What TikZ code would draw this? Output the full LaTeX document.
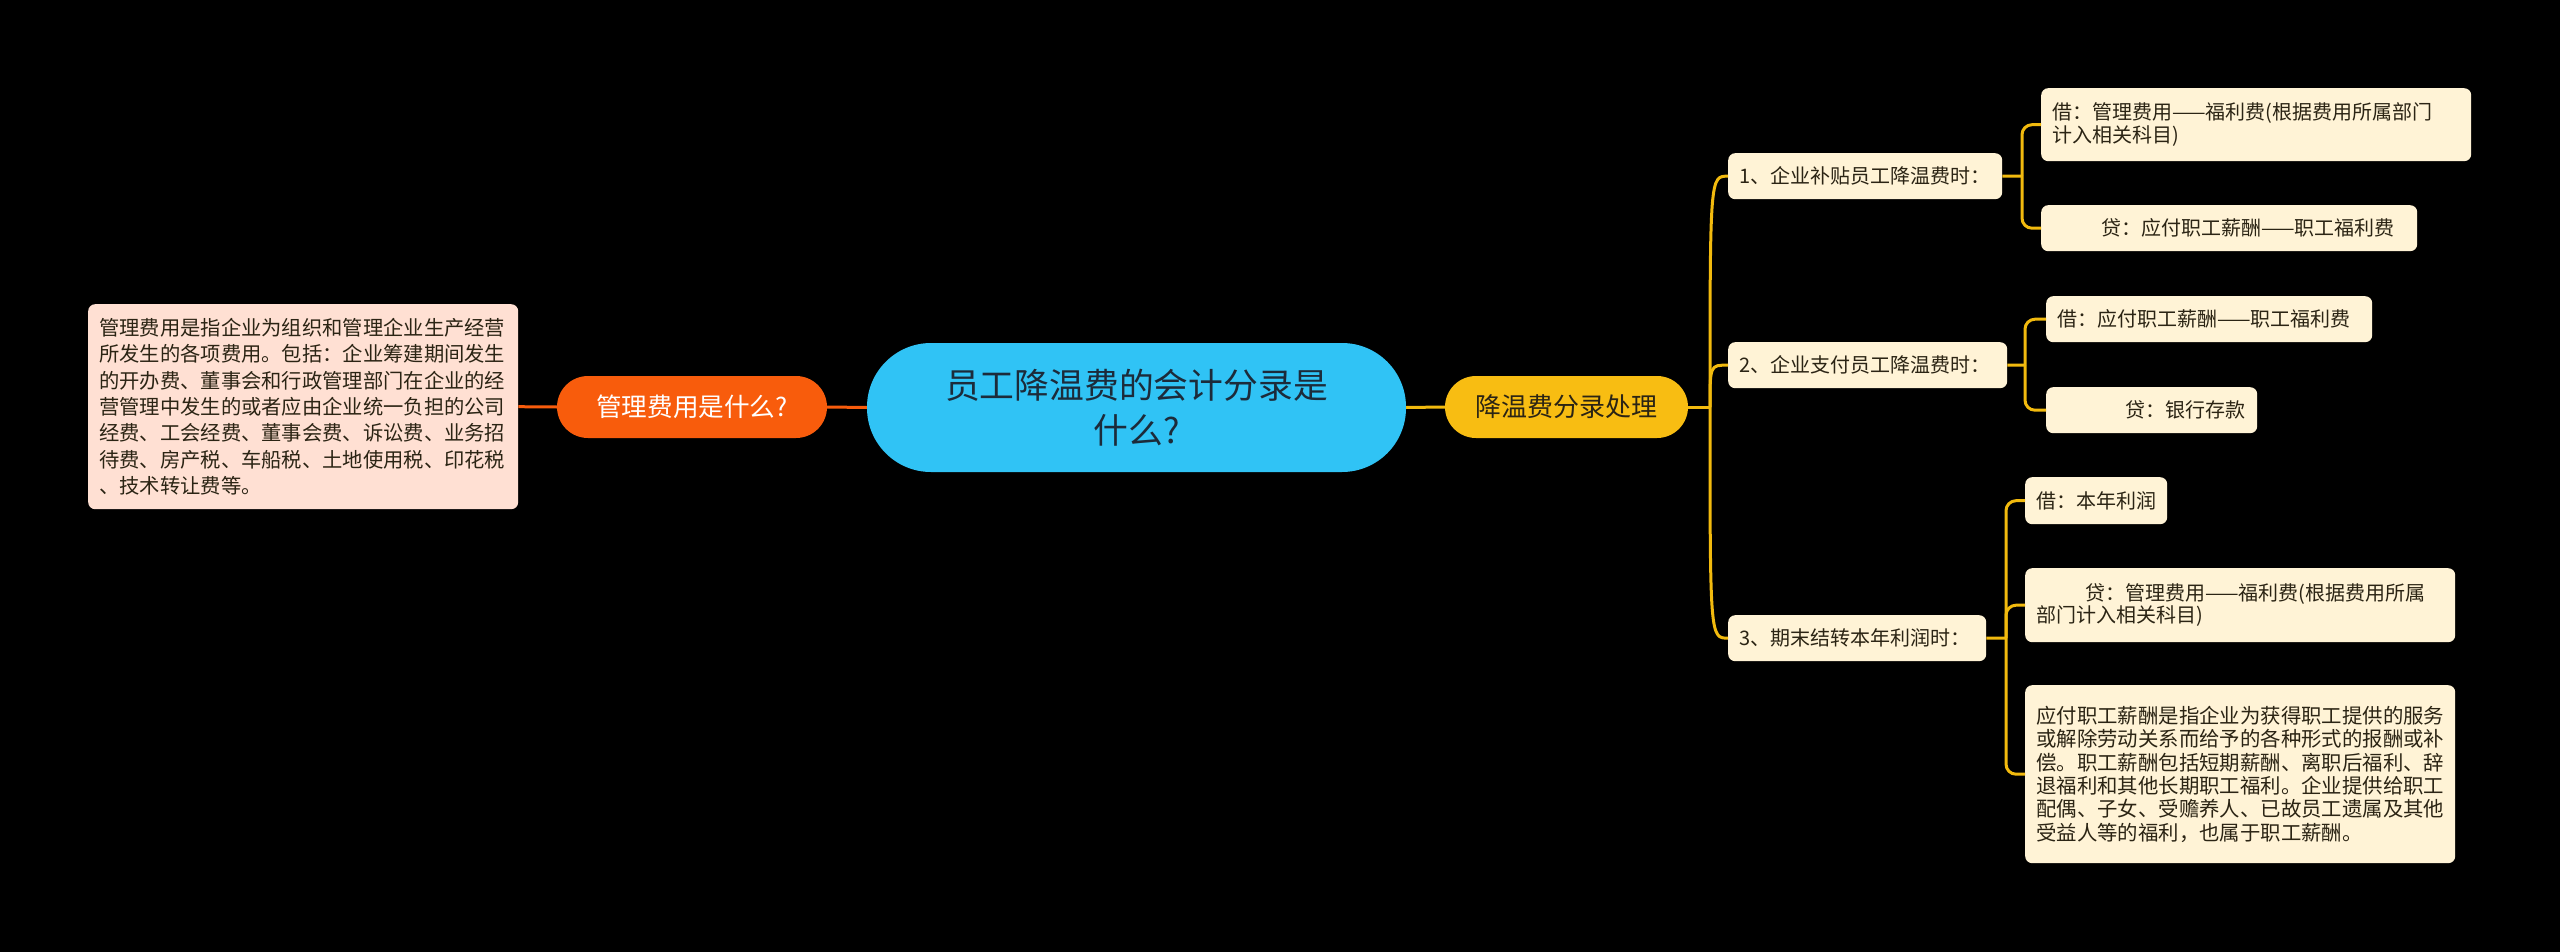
\documentclass[tikz,border=0pt]{standalone}
\usepackage{fontspec}
\setmainfont{Noto Sans CJK SC}
\definecolor{bgc}{HTML}{000000}
\definecolor{centerc}{HTML}{30C3F5}
\definecolor{orangec}{HTML}{F85C0C}
\definecolor{yellowc}{HTML}{F8BD12}
\definecolor{ylinec}{HTML}{F2BA0E}
\definecolor{creamc}{HTML}{FFF3D6}
\definecolor{peachc}{HTML}{FFE0D3}
\definecolor{darktxt}{HTML}{2B2414}
\definecolor{centertxt}{HTML}{1C2B3A}
\tikzset{
  pill/.style={rounded corners=31pt, minimum height=62pt, inner sep=0pt, align=center},
  leaf/.style={fill=creamc, text=darktxt, rounded corners=7pt, anchor=north west,
    inner xsep=11pt, inner ysep=0pt, align=left, font=\fontsize{20}{23}\selectfont},
  oline/.style={draw=orangec, line width=3pt},
  yline/.style={draw=ylinec, line width=3pt},
}
\begin{document}
\begin{tikzpicture}[x=1pt,y=-1pt]
\fill[bgc] (0,0) rectangle (2560,952);
\useasboundingbox (0,0) rectangle (2560,952);

% main nodes
\node[fill=centerc, text=centertxt, rounded corners=64pt, minimum width=539pt, minimum height=129pt,
  inner sep=0pt, align=center, font=\fontsize{34.8}{45}\selectfont] (center) at (1136.5,407.5)
  {员工降温费的会计分录是\\什么?};
\node[pill, fill=orangec, text=white, minimum width=270pt, font=\fontsize{25.6}{30}\selectfont]
  (orange) at (692,407) {管理费用是什么?};
\node[pill, fill=yellowc, text=darktxt, minimum width=243pt, font=\fontsize{26}{30}\selectfont]
  (yellow) at (1566.5,407) {降温费分录处理};

% left description
\node[fill=peachc, text=darktxt, rounded corners=7pt, anchor=north west, inner xsep=11pt, inner ysep=0pt,
  text width=408pt, minimum height=205pt, align=left, font=\fontsize{20.3}{26.3}\selectfont]
  (leftbox) at (88,304)
  {管理费用是指企业为组织和管理企业生产经营\\所发生的各项费用。包括：企业筹建期间发生\\的开办费、董事会和行政管理部门在企业的经\\营管理中发生的或者应由企业统一负担的公司\\经费、工会经费、董事会费、诉讼费、业务招\\待费、房产税、车船税、土地使用税、印花税\\、技术转让费等。};

% level 2
\node[leaf, text width=252pt, minimum height=46pt] (l1) at (1728,153) {1、企业补贴员工降温费时：};
\node[leaf, text width=257pt, minimum height=46pt] (l2) at (1728,342) {2、企业支付员工降温费时：};
\node[leaf, text width=236pt, minimum height=46pt] (l3) at (1728,615) {3、期末结转本年利润时：};

% level 3
\node[leaf, text width=408pt, minimum height=73pt, font=\fontsize{20}{22.5}\selectfont] (a1) at (2041,88)
  {借：管理费用——福利费(根据费用所属部门\\计入相关科目)};
\node[leaf, text width=354pt, minimum height=46pt] (b1) at (2041,205)
  {\hspace*{49pt}贷：应付职工薪酬——职工福利费};
\node[leaf, text width=304pt, minimum height=46pt] (a2) at (2046,296)
  {借：应付职工薪酬——职工福利费};
\node[leaf, text width=189pt, minimum height=46pt] (b2) at (2046,387)
  {\hspace*{68pt}贷：银行存款};
\node[leaf, text width=120pt, minimum height=47pt] (a3) at (2025,477)
  {借：本年利润};
\node[leaf, text width=408pt, minimum height=74pt, font=\fontsize{20}{22.5}\selectfont] (b3) at (2025,568)
  {\hspace*{49pt}贷：管理费用——福利费(根据费用所属\\部门计入相关科目)};
\node[leaf, text width=408pt, minimum height=178pt, font=\fontsize{20.4}{23.3}\selectfont] (c3) at (2025,685)
  {应付职工薪酬是指企业为获得职工提供的服务\\或解除劳动关系而给予的各种形式的报酬或补\\偿。职工薪酬包括短期薪酬、离职后福利、辞\\退福利和其他长期职工福利。企业提供给职工\\配偶、子女、受赡养人、已故员工遗属及其他\\受益人等的福利，也属于职工薪酬。};

% connectors
\draw[oline] (leftbox.east) -- (orange.west);
\draw[oline] (orange.east) -- (center.west);
\draw[yline] (center.east) -- (yellow.west);

\coordinate (t0) at (1710,407);
\draw[yline] (yellow.east) -- (t0);
\draw[yline] (t0) .. controls (1710,176) .. (l1.west);
\draw[yline] (t0) .. controls (1710,365) .. (l2.west);
\draw[yline] (t0) .. controls (1710,638) .. (l3.west);

\coordinate (t1) at (2022,176);
\draw[yline] (l1.east) -- (t1);
\draw[yline, rounded corners=10pt] (t1) |- (a1.west);
\draw[yline, rounded corners=10pt] (t1) |- (b1.west);

\coordinate (t2) at (2025,365);
\draw[yline] (l2.east) -- (t2);
\draw[yline, rounded corners=10pt] (t2) |- (a2.west);
\draw[yline, rounded corners=10pt] (t2) |- (b2.west);

\coordinate (t3) at (2006,638);
\draw[yline] (l3.east) -- (t3);
\draw[yline, rounded corners=10pt] (t3) |- (a3.west);
\draw[yline, rounded corners=10pt] (t3) |- (b3.west);
\draw[yline, rounded corners=10pt] (t3) |- (c3.west);
\end{tikzpicture}
\end{document}
